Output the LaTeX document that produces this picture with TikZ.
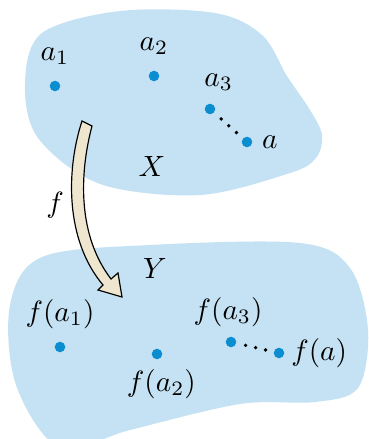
\documentclass[tikz,border=0pt]{standalone}
\usepackage{amsmath,amssymb}
\usepackage{xcolor}
\usepackage{tikz}
\usetikzlibrary{positioning}
\definecolor{setblue}{RGB}{196,226,243}
\definecolor{ptblue}{RGB}{10,142,208}
\definecolor{mapcream}{RGB}{239,230,207}

\begin{document}
\begin{tikzpicture}[x=.012cm,y=-.012cm,
  blob/.style={fill=setblue},
  pt/.style={circle,fill=ptblue,inner sep=0pt,minimum size=3.6pt},
  lbl/.style={inner sep=0pt},
  dotrow/.style={line width=1.3pt,line cap=round,dash pattern=on 0pt off 3.5pt,
    shorten <=3.1pt,shorten >=2.6pt},
  maparrow/.style={fill=mapcream,draw=black,line width=.4pt,line join=miter}]

\path[use as bounding box] (0,0) rectangle (369,439);
\begin{scope}
\clip (0,0) rectangle (369,439);
% the two sets
\fill[blob] plot[smooth cycle,tension=.55] coordinates {
  (25,83) (42,33) (120,11) (215,13) (262,35) (287,76) (310,110) (322,135)
  (316,158) (290,173) (200,195) (100,184) (38,138)};
\fill[blob] plot[smooth cycle,tension=.55] coordinates {
  (10,305) (42,257) (150,245) (300,243) (350,268) (368,330) (358,388)
  (315,402) (240,404) (130,430) (60,448) (16,385)};
\end{scope}
\node at (152,166) {$X$};
\node at (155,268) {$Y$};

% the map f
\draw[maparrow] (82,121) .. controls (66,170) and (65,240) .. (103,285)
  -- (98,290) -- (122,297) -- (118,273) -- (111,279)
  .. controls (78,236) and (79,175) .. (92,126) -- cycle;
\node at (55,205) {$f$};

% points of X
\node[pt] (a1) at (55,86) {};
\node[pt] (a2) at (154,76) {};
\node[pt] (a3) at (210,109) {};
\node[pt] (a) at (247,142) {};
\node[lbl,above=5pt of a1] {$a_1$};
\node[lbl,above=5pt of a2] {$a_2$};
\node[lbl,above=4pt of a3,xshift=3pt] {$a_3$};
\node[lbl,right=3pt of a] {$a$};
\draw[dotrow] (a3) -- (a);

% points of Y
\node[pt] (fa1) at (60,347) {};
\node[pt] (fa2) at (157,354) {};
\node[pt] (fa3) at (231,342) {};
\node[pt] (fa) at (279,353) {};
\node[lbl,above=4pt of fa1] {$f(a_1)$};
\node[lbl,below=3pt of fa2,xshift=1.5pt] {$f(a_2)$};
\node[lbl,above=3pt of fa3,xshift=-1pt] {$f(a_3)$};
\node[lbl,right=2pt of fa] {$f(a)$};
\draw[dotrow] (fa3) -- (fa);

\end{tikzpicture}
\end{document}
